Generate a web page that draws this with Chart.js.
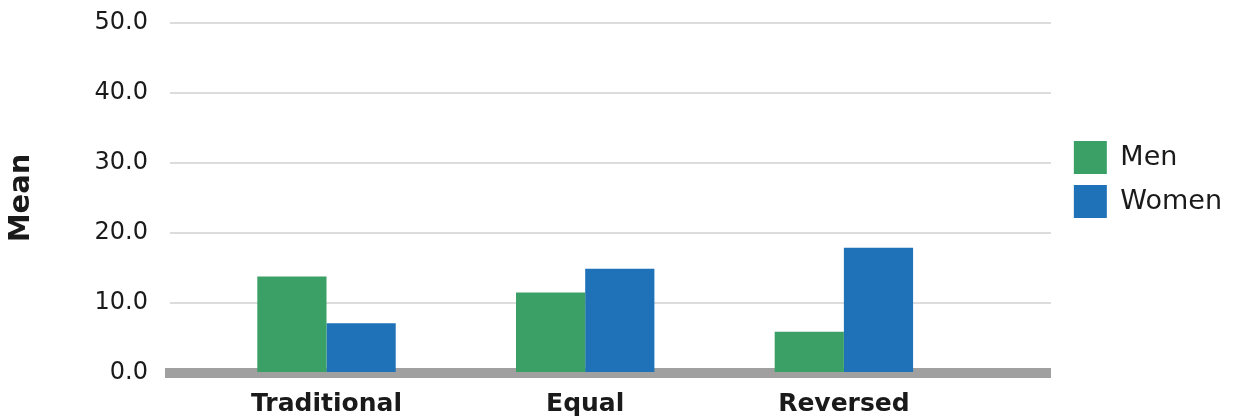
<!DOCTYPE html>
<html>
<head>
<meta charset="utf-8">
<script src="https://cdn.jsdelivr.net/npm/chart.js@4"></script>
<style>
  html, body { margin: 0; padding: 0; background: #fff; }
  #wrap { width: 1241px; height: 419px; position: relative; }
</style>
</head>
<body>
<div id="wrap"><canvas id="chart"></canvas></div>
<script>
// data
const categories = ['Traditional', 'Equal', 'Reversed'];
const men = [13.8, 11.5, 5.9];
const women = [7.1, 14.9, 17.9];
const yMax = 50;
const yStep = 10;

const FONT = "'DejaVu Sans', sans-serif";
const INK = '#1a1a1a';

// bars sit on a linear x scale at the category index, labels come from categories
const toPoints = arr => arr.map((v, i) => ({ x: i, y: v }));

new Chart(document.getElementById('chart'), {
  type: 'bar',
  data: {
    datasets: [
      { label: 'Men',   data: toPoints(men),   backgroundColor: '#3aa065', borderWidth: 0 },
      { label: 'Women', data: toPoints(women), backgroundColor: '#1f71b8', borderWidth: 0 }
    ]
  },
  options: {
    responsive: true,
    maintainAspectRatio: false,
    animation: false,
    categoryPercentage: 0.535,
    barPercentage: 1.0,
    layout: { padding: { top: 0, right: 9, bottom: 0, left: 0 } },
    plugins: {
      tooltip: { enabled: false },
      legend: {
        position: 'right',
        align: 'start',
        title: { display: true, text: '', font: { size: 10 }, padding: { top: 118, bottom: 0 } },
        labels: {
          boxWidth: 33,
          boxHeight: 33,
          padding: 11,
          color: INK,
          font: { family: FONT, size: 27 }
        }
      }
    },
    scales: {
      x: {
        type: 'linear',
        min: -0.605,
        max: 2.8,
        offset: false,
        z: 1,
        grid: { display: false, drawTicks: false, offset: false },
        border: { display: true, color: '#a0a0a0', width: 10 },
        afterBuildTicks: axis => { axis.ticks = categories.map((_, i) => ({ value: i })); },
        afterFit: s => { s.height = 46; },
        ticks: {
          autoSkip: false,
          maxRotation: 0,
          padding: 16,
          color: INK,
          font: { family: FONT, size: 25, weight: 'bold' },
          callback: v => categories[v]
        }
      },
      y: {
        min: 0,
        max: yMax,
        border: { display: false },
        grid: { color: '#dcdcdc', lineWidth: 2, drawTicks: false },
        afterFit: s => { s.width = 170; s.paddingTop = 23; },
        ticks: {
          stepSize: yStep,
          padding: 22,
          color: INK,
          font: { family: FONT, size: 24 },
          callback: v => v.toFixed(1)
        },
        title: {
          display: true,
          text: 'Mean',
          color: INK,
          font: { family: FONT, size: 29, weight: 'bold' },
          padding: { top: 4, bottom: 0 }
        }
      },
      // spacer between plot and legend
      gap: {
        type: 'linear',
        position: 'right',
        display: true,
        grid: { display: false },
        border: { display: false },
        ticks: { display: false },
        afterFit: s => { s.width = 12; }
      }
    }
  }
});
</script>
</body>
</html>
